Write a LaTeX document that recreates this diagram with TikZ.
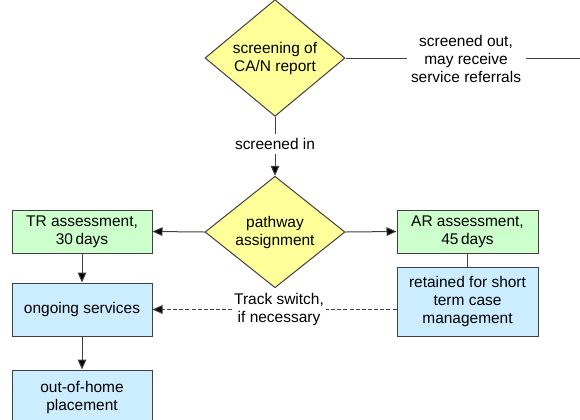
\documentclass[tikz,border=0pt]{standalone}
\usepackage{fontspec}
\setmainfont{Liberation Sans}
\usetikzlibrary{shapes.geometric,arrows.meta}

\definecolor{decisionyellow}{HTML}{FFFF99}
\definecolor{assessgreen}{HTML}{CCFFCC}
\definecolor{serviceblue}{HTML}{CCECFF}
\definecolor{edgegray}{HTML}{404040}

\tikzset{every picture/.style={line width=0.75pt}}
\tikzset{
  decision/.style={diamond, draw=edgegray, fill=decisionyellow, inner sep=0pt, minimum width=105pt, minimum height=78pt, align=center},
  assessbox/.style={draw=edgegray, fill=assessgreen, inner sep=0pt, minimum width=105pt, align=center},
  servicebox/.style={draw=edgegray, fill=serviceblue, inner sep=0pt, minimum width=105pt, align=center},
  edgelabel/.style={fill=white, inner xsep=2pt, inner ysep=3pt, align=center},
  flowarrow/.style={draw=edgegray, -{Triangle[length=7.5pt,width=6.5pt,fill=black]}},
  switchline/.style={draw=edgegray, dash pattern=on 3pt off 1.6pt}
}

\begin{document}
\begin{tikzpicture}[x=0.75pt,y=0.75pt,yscale=-1,xscale=1,font=\fontsize{11.6}{13.5}\selectfont]
\useasboundingbox (0,0) rectangle (580,419);
\clip (0,0) rectangle (580,419);

%Flowchart: Decision
\draw (275,58) node [decision] (screen) {screening of\\CA/N report};
%Flowchart: Decision
\draw (275,232) node [decision, minimum height=77.25pt] (pathway) {pathway\\assignment};

%Flowchart: Process
\draw (82,231.5) node [assessbox, minimum height=32.25pt] (tr) {TR assessment,\\30\,days};
%Flowchart: Process
\draw (467.5,231.5) node [assessbox, minimum width=105.75pt, minimum height=32.25pt] (ar) {AR assessment,\\45\,days};
%Flowchart: Process
\draw (82,309.5) node [servicebox, minimum height=39.75pt] (ongoing) {ongoing services};
%Flowchart: Process
\draw (82,397.5) node [servicebox, minimum height=41.25pt] (placement) {out-of-home\\placement};
%Flowchart: Process
\draw (467.5,301.5) node [servicebox, minimum width=105.75pt, minimum height=51.75pt] (retained) {retained for short\\term case\\management};

% Text Node
\draw (466,59) node [edgelabel, inner xsep=3pt] (screenout) {screened out,\\may receive\\service referrals};
% Text Node
\draw (275,144) node [edgelabel] (screenin) {screened in};
% Text Node
\draw (279,309) node [edgelabel, inner xsep=1pt] (switch) {Track switch,\\if necessary};

\coordinate (outend) at (580,58);

%Straight Lines
\draw [edgegray] (screen.east) -- (screenout.west |- screen.east);
\draw [edgegray] (screenout.east |- outend) -- (outend);
%Straight Lines
\draw [edgegray] (screen.south) -- (screenin.north);
\draw [flowarrow] (screenin.south) -- (pathway.north);
%Straight Lines
\draw [flowarrow] (pathway.west) -- (tr.east);
\draw [flowarrow] (pathway.east) -- (ar.west);
%Straight Lines
\draw [flowarrow] (tr.south) -- (ongoing.north);
\draw [flowarrow] (ongoing.south) -- (placement.north);
%Straight Lines
\draw [edgegray] (ar.south) -- (retained.north);
%Straight Lines
\draw [switchline] (retained.west |- ongoing.east) -- (switch.east |- ongoing.east);
\draw [switchline, -{Triangle[length=7.5pt,width=6.5pt,fill=black]}] (switch.west |- ongoing.west) -- (ongoing.east);

\end{tikzpicture}
\end{document}
